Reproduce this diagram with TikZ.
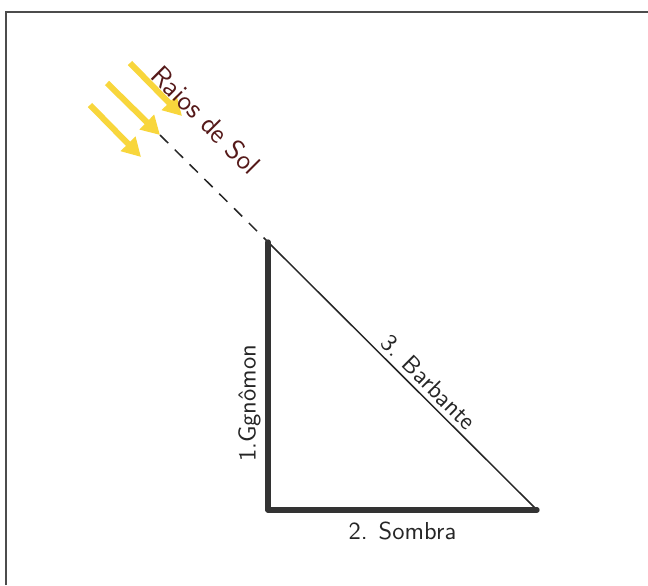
\documentclass[tikz,border=0pt]{standalone}
\usepackage{fontspec}
\usepackage{tikz}
\usetikzlibrary{arrows.meta, positioning, calc}
\definecolor{sunyellow}{RGB}{248,214,60}
\definecolor{sunbrown}{RGB}{85,25,25}
\tikzset{
    frame_line/.style={
        draw=black!70, line width=1.1pt
    },
    gnomon_line/.style={
        draw=black!80, line width=2.3pt, line cap=round
    },
    string_line/.style={
        draw=black!85, line width=0.65pt
    },
    ray_line/.style={
        draw=black!85, line width=0.65pt, dash pattern=on 5pt off 4pt
    },
    sun_arrow/.style={
        -{Triangle[length=8pt,width=8.5pt]}, draw=sunyellow, line width=2.6pt
    },
    lbl/.style={
        font=\sffamily\fontsize{10.6}{12}\selectfont, text=black!85, inner sep=2pt
    }
}

\begin{document}
\begin{tikzpicture}[x=0.432pt, y=-0.432pt]

    \useasboundingbox (0,0) rectangle (648,585);

    % --- Frame (top-left corner only) ---
    \draw[frame_line] (6,585) -- (6,12) -- (648,12);

    % --- Triangle corners ---
    \coordinate (top) at (268,242);
    \coordinate (base) at (268,510);
    \coordinate (tip) at (537,510);
    \coordinate (rayend) at (160,135);

    % --- Sun rays ---
    \coordinate (sunA) at (130,63);
    \coordinate (sunAend) at (182,116);
    \coordinate (sunB) at (107,83);
    \coordinate (sunBend) at (160,135);
    \coordinate (sunC) at (90,105);
    \coordinate (sunCend) at (141,157);
    \draw[sun_arrow] (sunA) -- (sunAend);
    \draw[sun_arrow] (sunB) -- (sunBend);
    \draw[sun_arrow] (sunC) -- (sunCend);
    \node[lbl, font=\sffamily\fontsize{12}{14}\selectfont, text=sunbrown, rotate=-45] (sol) at (206,120) {Raios de Sol};

    % --- Gnomon, shadow and string ---
    \draw[ray_line] (rayend) -- (top);
    \draw[string_line] (top) -- node[lbl, above, sloped, pos=0.56] {3. Barbante} (tip);
    \draw[gnomon_line] (top) -- node[lbl, rotate=90, above=1pt, pos=0.61] {1.Ggnômon} (base);
    \draw[gnomon_line] (base) -- node[lbl, below=2pt] {2. Sombra} (tip);

\end{tikzpicture}
\end{document}
